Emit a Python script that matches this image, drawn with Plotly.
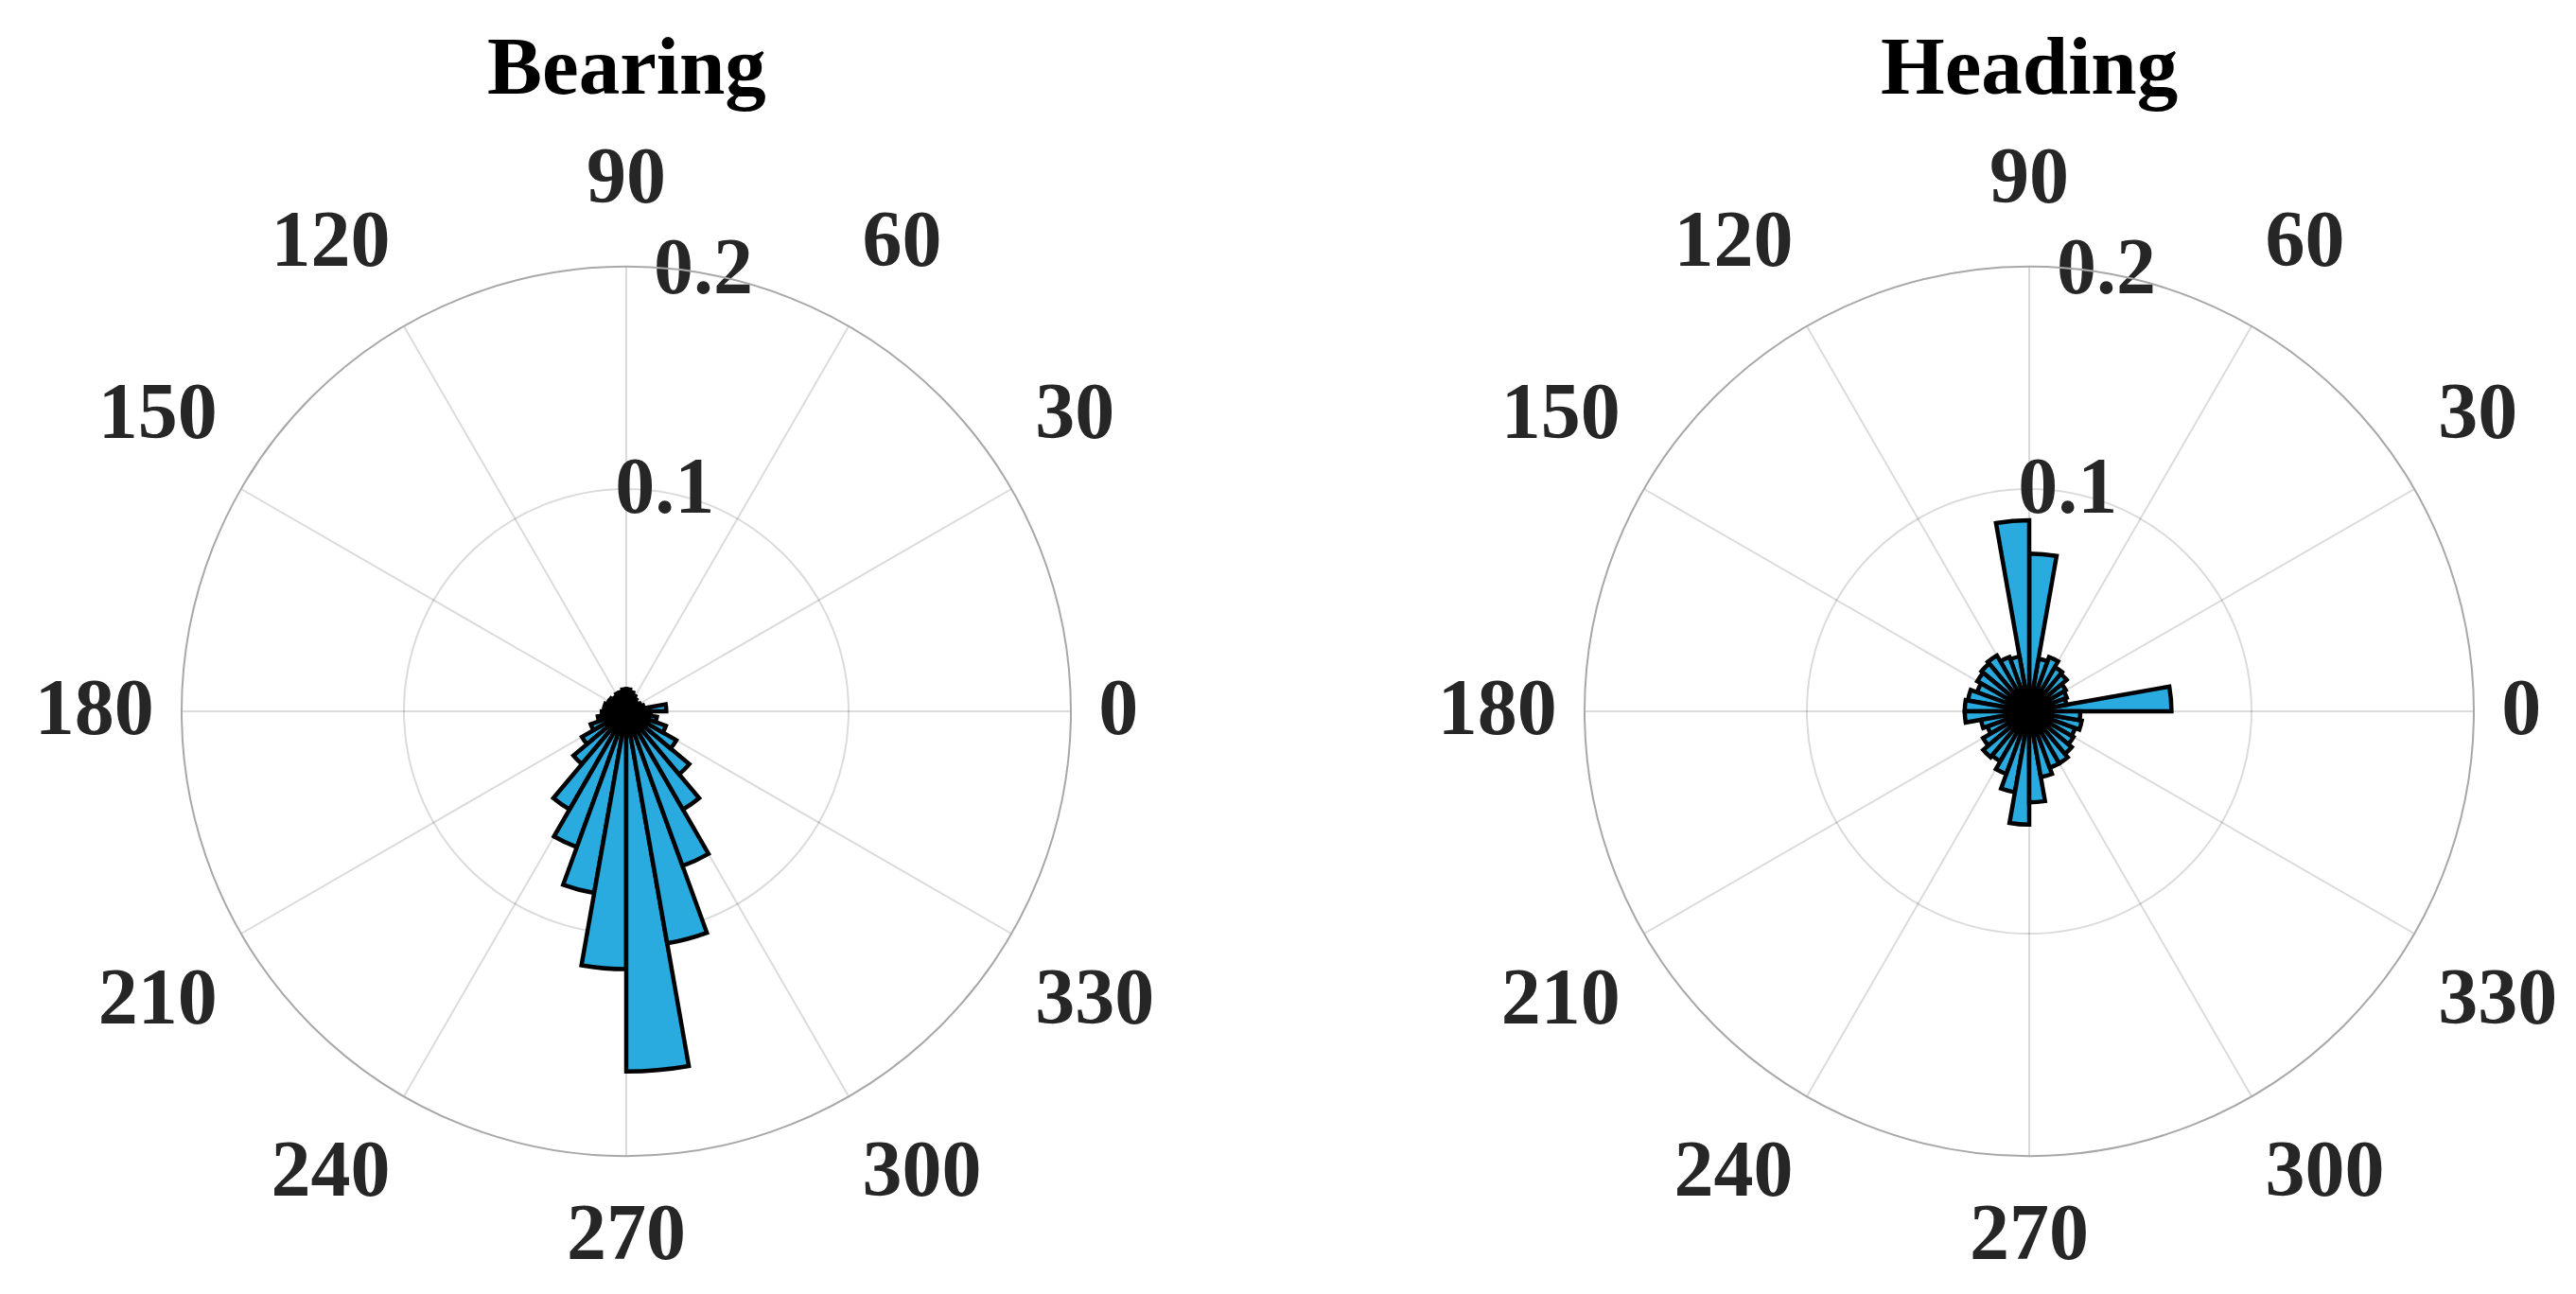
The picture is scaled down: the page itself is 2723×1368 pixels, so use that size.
import math
import plotly.graph_objects as go

# Bin centres (degrees), 10-degree bins
bin_centers = [5 + 10 * i for i in range(36)]
bin_width = 10

bearing = [0.018, 0.008, 0.007, 0.006, 0.006, 0.007, 0.008, 0.009, 0.010, 0.010,
           0.009, 0.009, 0.008, 0.008, 0.009, 0.009, 0.010, 0.010, 0.011, 0.013,
           0.017, 0.023, 0.031, 0.051, 0.065, 0.083, 0.116, 0.162, 0.106, 0.074,
           0.051, 0.037, 0.026, 0.019, 0.014, 0.011]

heading = [0.064, 0.017, 0.018, 0.019, 0.022, 0.023, 0.026, 0.024, 0.071, 0.086,
           0.025, 0.026, 0.029, 0.028, 0.027, 0.025, 0.028, 0.029, 0.029, 0.022,
           0.020, 0.024, 0.027, 0.026, 0.030, 0.037, 0.051, 0.041, 0.030, 0.027,
           0.027, 0.025, 0.023, 0.022, 0.024, 0.023]

angle_ticks = [0, 30, 60, 90, 120, 150, 180, 210, 240, 270, 300, 330]
angle_labels = [str(a) for a in angle_ticks]
radial_ticks = [0.1, 0.2]
radial_labels = ["0.1", "0.2"]
r_label_angle = 80
titles = ["Bearing", "Heading"]

FONT = "Liberation Serif"
TXT = "#262626"
BAR = "#29abe0"

W, H = 2723, 1368
OFF = 8  # page body margin
centers = [(662 - OFF, 752 - OFF), (2145 - OFF, 752 - OFF)]
R = 470
R_MAX = 0.2
LABEL_SCALE = 1.062  # theta labels anchored just outside the rim
# extra vertical padding of the label boxes (px, positive = down)
V_SHIFT = {"top": -18, "middle": 3, "bottom": 17}


def v_align(a):
    s = math.sin(math.radians(a))
    return "top" if s > 1e-6 else ("bottom" if s < -1e-6 else "middle")


def h_align(a):
    c = math.cos(math.radians(a))
    return "right" if c > 1e-6 else ("left" if c < -1e-6 else "center")


def dom(cx, cy, rad):
    return dict(x=[(cx - rad) / W, (cx + rad) / W],
                y=[(H - cy - rad) / H, (H - cy + rad) / H])


polar_common = dict(
    bgcolor="white",
    radialaxis=dict(range=[0, R_MAX], tickvals=radial_ticks, showticklabels=False,
                    showline=False, ticks="", angle=r_label_angle,
                    gridcolor="rgba(0,0,0,0.14)", gridwidth=2, layer="above traces"),
    angularaxis=dict(rotation=0, direction="counterclockwise",
                     tickmode="array", tickvals=angle_ticks, showticklabels=False,
                     ticks="",
                     showline=True, linecolor="#a8a8a8", linewidth=2,
                     gridcolor="rgba(0,0,0,0.14)", gridwidth=2, layer="above traces"),
)

label_polar = dict(
    bgcolor="rgba(0,0,0,0)",
    radialaxis=dict(range=[0, R_MAX], visible=False, showgrid=False),
    angularaxis=dict(rotation=0, direction="counterclockwise", visible=False,
                     showgrid=False, showline=False),
)

fig = go.Figure()
layout_polars = {}
n_sub = 2
for i, (vals, name) in enumerate(zip([bearing, heading], titles)):
    pid = "polar" if i == 0 else "polar2"
    cx, cy = centers[i]
    layout_polars[pid] = dict(domain=dom(cx, cy, R), **polar_common)
    fig.add_trace(go.Barpolar(
        r=vals, theta=bin_centers, width=[bin_width] * len(vals),
        marker=dict(color=BAR, line=dict(color="black", width=4.5)),
        subplot=pid, showlegend=False, hoverinfo="skip"))
    fig.add_trace(go.Scatterpolar(
        r=radial_ticks, theta=[r_label_angle] * len(radial_ticks),
        text=radial_labels, mode="text", textposition="middle center",
        textfont=dict(family=FONT, size=84, color=TXT, weight="bold"),
        subplot=pid, showlegend=False, hoverinfo="skip", cliponaxis=False))
    # theta tick labels, one transparent overlay per vertical alignment group
    for grp, dy in V_SHIFT.items():
        idx = [k for k, a in enumerate(angle_ticks) if v_align(a) == grp]
        n_sub += 1
        lid = f"polar{n_sub}"
        layout_polars[lid] = dict(domain=dom(cx, cy + dy, R * LABEL_SCALE), **label_polar)
        fig.add_trace(go.Scatterpolar(
            r=[R_MAX] * len(idx), theta=[angle_ticks[k] for k in idx],
            text=[angle_labels[k] for k in idx], mode="text",
            textposition=[f"{grp} {h_align(angle_ticks[k])}" for k in idx],
            textfont=dict(family=FONT, size=84, color=TXT, weight="bold"),
            subplot=lid, showlegend=False, hoverinfo="skip", cliponaxis=False))

fig.update_layout(
    width=W, height=H,
    margin=dict(l=0, r=0, t=0, b=0),
    paper_bgcolor="white",
    **layout_polars,
)

for (cx, cy), t in zip(centers, titles):
    fig.add_annotation(x=cx / W, y=1 - 62 / H, xref="paper", yref="paper",
                       text=t, showarrow=False, xanchor="center", yanchor="middle",
                       font=dict(family=FONT, size=87, color="black", weight="bold"))

fig.write_html("out.html")
